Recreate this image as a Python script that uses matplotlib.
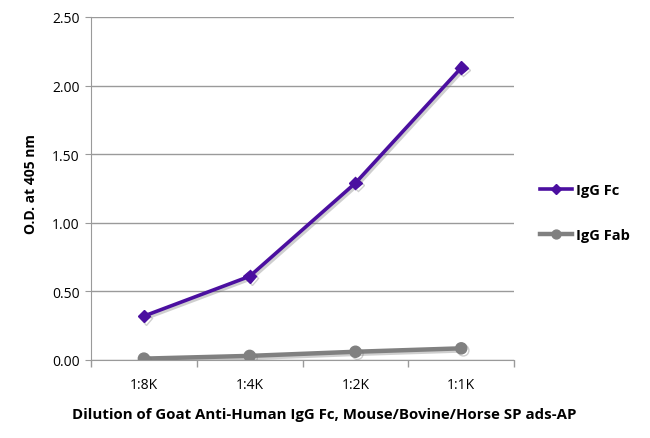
import matplotlib
matplotlib.use("Agg")
import matplotlib.pyplot as plt
import matplotlib.patheffects as pe

plt.rcParams['font.family'] = ['Open Sans', 'DejaVu Sans']

dilutions = ['1:8K', '1:4K', '1:2K', '1:1K']
igg_fc = [0.32, 0.61, 1.29, 2.13]
igg_fab = [0.01, 0.03, 0.06, 0.085]
yticks = [0.0, 0.5, 1.0, 1.5, 2.0, 2.5]

purple = '#4b0fa0'
grey = '#808080'
axis_grey = '#9a9a9a'

fig = plt.figure(figsize=(6.5, 4.39), dpi=100)
ax = fig.add_axes([0.14, 0.1777, 0.651, 0.7813])

shadow = [pe.SimpleLineShadow(offset=(1.5, -1.5), alpha=0.35, shadow_color='#777777'), pe.Normal()]
x = list(range(len(dilutions)))
ax.plot(x, igg_fc, color=purple, lw=2.6, marker='D', ms=6.5, label='IgG Fc',
        path_effects=shadow, zorder=3)
ax.plot(x, igg_fab, color=grey, lw=3.2, marker='o', ms=8, label='IgG Fab',
        path_effects=shadow, zorder=3)

ax.set_xlim(-0.5, 3.5)
ax.set_ylim(0, 2.5)
ax.set_yticks(yticks)
ax.set_yticklabels(['%.2f' % v for v in yticks])
ax.set_xticks(x)
ax.set_xticklabels(dilutions)
ax.set_xticks([-0.5, 0.5, 1.5, 2.5, 3.5], minor=True)
ax.tick_params(axis='x', which='major', length=0, pad=12, labelsize=10)
ax.tick_params(axis='x', which='minor', length=5, color=axis_grey, width=1)
ax.tick_params(axis='y', length=4, color=axis_grey, labelsize=10, pad=4)
ax.grid(axis='y', color=axis_grey, lw=1)
ax.set_axisbelow(True)
for s in ['top', 'right']:
    ax.spines[s].set_visible(False)
for s in ['left', 'bottom']:
    ax.spines[s].set_color(axis_grey)

ax.set_ylabel('O.D. at 405 nm', fontsize=10, fontweight='bold')
ax.yaxis.set_label_coords(-0.125, 0.515)
ax.set_xlabel('Dilution of Goat Anti-Human IgG Fc, Mouse/Bovine/Horse SP ads-AP',
              fontsize=10.8, fontweight='bold')
ax.xaxis.set_label_coords(0.551, -0.137)

leg = ax.legend(loc='center left', bbox_to_anchor=(1.03, 0.43), frameon=False,
                fontsize=10.5, handlelength=2.2, handletextpad=0.3, labelspacing=2.1,
                markerscale=0.8)
for t in leg.get_texts():
    t.set_fontweight('bold')
for ln in leg.get_lines():
    ln.set_path_effects([])

fig.savefig('out.png', dpi=100)
